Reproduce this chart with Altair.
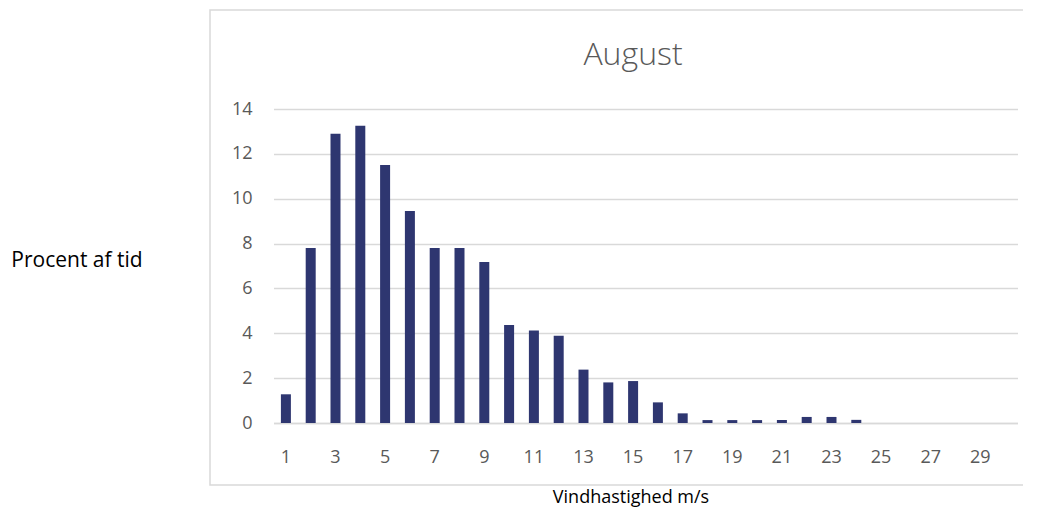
import altair as alt
import pandas as pd

speeds = list(range(1, 31))
percent = [1.28, 7.8, 12.9, 13.25, 11.5, 9.45, 7.8, 7.8, 7.18, 4.37,
           4.12, 3.89, 2.38, 1.81, 1.87, 0.92, 0.43, 0.13, 0.13, 0.13,
           0.13, 0.27, 0.27, 0.14, 0, 0, 0, 0, 0, 0]
y_ticks = [0, 2, 4, 6, 8, 10, 12, 14]
chart_title = "August"

df = pd.DataFrame({"speed": speeds, "pct": percent})

W, H = 744, 314
GRID = "#d9d9d9"
TXT = "#595959"
FONT = "Open Sans"

bars = alt.Chart(df).mark_bar(size=10, color="#2e3670").encode(
    x=alt.X("speed:O",
            scale=alt.Scale(paddingInner=0, paddingOuter=0),
            axis=alt.Axis(title="Vindhastighed m/s", labelAngle=0,
                          labelExpr="datum.value % 2 == 1 ? datum.label : ''",
                          ticks=False, domain=True, domainColor=GRID, domainWidth=1.5,
                          labelPadding=34, labelBaseline="middle",
                          labelFontSize=18, labelColor=TXT, labelFont=FONT,
                          titleFont=FONT, titleFontSize=18, titleFontWeight="normal",
                          titleColor="#000000", titleX=357, titleY=74,
                          titleBaseline="middle", titleAnchor="start", titleAlign="center")),
    y=alt.Y("pct:Q",
            scale=alt.Scale(domain=[0, 14], nice=False),
            axis=alt.Axis(title="Procent af tid", values=y_ticks, ticks=False, domain=False,
                          grid=True, gridColor=GRID, gridWidth=1.5,
                          labelPadding=21.5, labelFontSize=18, labelColor=TXT, labelFont=FONT,
                          titleFont=FONT, titleFontSize=21, titleFontWeight="normal",
                          titleColor="#000000", titleAngle=0, titleX=-197, titleY=151,
                          titleAlign="center", titleBaseline="middle")),
)

frame = alt.Chart(pd.DataFrame({"a": [0]})).mark_rect(
    fill=None, stroke=GRID, strokeWidth=1.5
).encode(
    x=alt.value(-63.5), x2=alt.value(800), y=alt.value(-99), y2=alt.value(376)
)

title = alt.Chart(pd.DataFrame({"t": [chart_title]})).mark_text(
    font=FONT, fontSize=32, fontWeight=300, color=TXT,
    align="center", baseline="alphabetic"
).encode(
    text="t:N", x=alt.value(359.5), y=alt.value(-44)
)

chart = alt.layer(frame, bars, title).properties(
    width=W, height=H,
    padding={"left": 265.5, "top": 101, "right": 5, "bottom": 85},
    autosize=alt.AutoSizeParams(type="none"),
).configure_view(stroke=None)

chart.save("out.html", embed_options={"renderer": "svg", "actions": False})
